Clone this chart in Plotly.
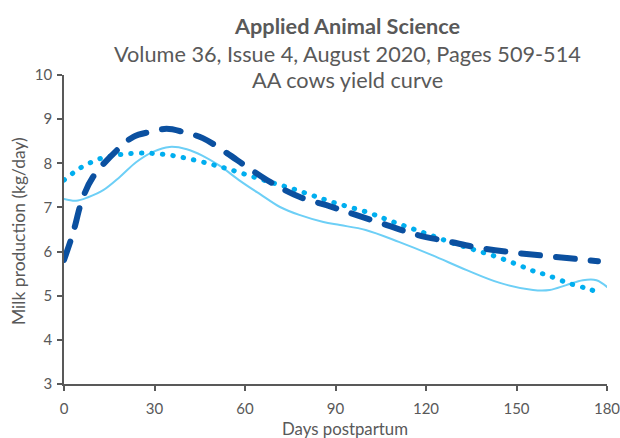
import plotly.graph_objects as go

# ---- data ----
dash_days = [0, 3, 6, 9.6, 17.6, 23, 28.5, 34, 39.5, 46, 54, 60.6, 69, 78, 87, 95, 107, 117, 128, 138, 150, 163, 177]
dash_vals = [5.81, 6.42, 7.17, 7.69, 8.30, 8.60, 8.71, 8.78, 8.71, 8.57, 8.23, 7.92, 7.55, 7.24, 7.05, 6.87, 6.60, 6.38, 6.22, 6.08, 5.97, 5.88, 5.78]

dot_days = [0, 3, 6, 9.3, 12.6, 16, 20, 27, 34.5, 41.5, 48.7, 54.4, 61, 68, 75, 82, 89, 101, 108, 115, 122, 129, 136, 143.5, 150.5, 156, 160, 167, 174, 177.7]
dot_vals = [7.62, 7.78, 7.92, 8.03, 8.12, 8.17, 8.21, 8.23, 8.19, 8.10, 7.98, 7.87, 7.73, 7.58, 7.44, 7.28, 7.12, 6.88, 6.70, 6.53, 6.36, 6.19, 6.04, 5.88, 5.70, 5.55, 5.47, 5.29, 5.15, 5.06]

solid_days = [0, 4, 8, 13, 18.5, 24, 29.5, 35, 40.7, 46, 51.7, 58, 65, 71.6, 78, 86, 91.5, 100, 111, 122, 133.5, 144.5, 155.5, 161, 166.5, 172, 176.5, 180]
solid_vals = [7.19, 7.15, 7.23, 7.39, 7.69, 8.03, 8.26, 8.37, 8.32, 8.17, 7.94, 7.62, 7.30, 7.01, 6.83, 6.67, 6.60, 6.49, 6.22, 5.92, 5.58, 5.29, 5.13, 5.13, 5.24, 5.35, 5.35, 5.20]

x_ticks = [0, 30, 60, 90, 120, 150, 180]
y_ticks = [3, 4, 5, 6, 7, 8, 9, 10]

title_lines = ["Applied Animal Science",
               "Volume 36, Issue 4, August 2020, Pages 509-514",
               "AA cows yield curve"]
x_title = "Days postpartum"
y_title = "Milk production (kg/day)"

GRAY = "#595959"
FONT = "Lato"

fig = go.Figure()
fig.add_trace(go.Scatter(x=solid_days, y=solid_vals, mode="lines",
                         line=dict(color="#6dcff6", width=2, shape="spline", smoothing=1),
                         showlegend=False, hoverinfo="skip"))
fig.add_trace(go.Scatter(x=dot_days, y=dot_vals, mode="lines",
                         line=dict(color="#00aeef", width=5, shape="spline", smoothing=1,
                                   dash="0.5px,10px"),
                         showlegend=False, hoverinfo="skip"))
fig.add_trace(go.Scatter(x=dash_days, y=dash_vals, mode="lines",
                         line=dict(color="#0b50a0", width=6, shape="spline", smoothing=1,
                                   dash="19px,16px"),
                         showlegend=False, hoverinfo="skip"))

axis_common = dict(showline=True, linecolor=GRAY, linewidth=1.5, ticks="outside",
                   ticklen=5, tickwidth=1.5, tickcolor=GRAY, showgrid=False, zeroline=False,
                   ticklabeloverflow="allow", automargin=False,
                   tickfont=dict(family=FONT, size=15, color=GRAY))

fig.update_xaxes(range=[0, 180], tickvals=x_ticks, ticklabelstandoff=5, **axis_common)
fig.update_yaxes(range=[3, 10], tickvals=y_ticks, ticklabelstandoff=2, **axis_common)

ys = [26.5, 53.5, 80.5]
annotations = []
for i, t in enumerate(title_lines):
    txt = "<b>" + t + "</b>" if i == 0 else t
    annotations.append(dict(text=txt, xref="paper", yref="paper",
                            x=(347 - 64) / 543, y=1 + (75 - ys[i]) / 309,
                            xanchor="center", yanchor="middle", showarrow=False,
                            font=dict(family=FONT, size=21.7, color=GRAY)))
annotations.append(dict(text=x_title, xref="paper", yref="paper",
                        x=(345 - 64) / 543, y=-(428 - 384) / 309,
                        xanchor="center", yanchor="middle", showarrow=False,
                        font=dict(family=FONT, size=16.8, color=GRAY)))
annotations.append(dict(text=y_title, xref="paper", yref="paper",
                        x=-(64 - 18) / 543, y=(384 - 231) / 309, textangle=-90,
                        xanchor="center", yanchor="middle", showarrow=False,
                        font=dict(family=FONT, size=17.5, color=GRAY)))

fig.update_layout(width=620, height=438, margin=dict(l=64, r=13, t=75, b=54, autoexpand=False),
                  paper_bgcolor="white", plot_bgcolor="white",
                  annotations=annotations, font=dict(family=FONT, color=GRAY))

post = ("document.body.style.margin='0';"
        "document.querySelectorAll('.scatterlayer path.js-line').forEach("
        "function(p){p.style.strokeLinecap='round';p.style.strokeLinejoin='round';});")
fig.write_html("out.html", post_script=post, config={"displayModeBar": False})
